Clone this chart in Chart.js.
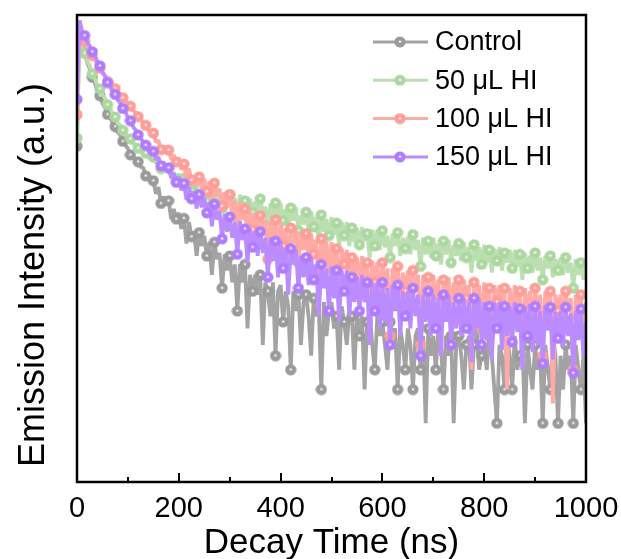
<!DOCTYPE html>
<html>
<head>
<meta charset="utf-8">
<script src="https://cdn.jsdelivr.net/npm/chart.js@4.4.1/dist/chart.umd.min.js"></script>
<style>
  html, body { margin: 0; padding: 0; background: #fff; }
  #trpl { display: block; }
</style>
</head>
<body>
<canvas id="trpl" width="621" height="559"></canvas>
<script>
// decay time axis (ns), one sample every 5 ns
const timeNs = [
  0, 5, 10, 15, 20, 25, 30, 35, 40, 45, 50, 55, 60, 65, 70, 75, 80, 85, 90, 95,
  100, 105, 110, 115, 120, 125, 130, 135, 140, 145, 150, 155, 160, 165, 170, 175, 180, 185, 190, 195,
  200, 205, 210, 215, 220, 225, 230, 235, 240, 245, 250, 255, 260, 265, 270, 275, 280, 285, 290, 295,
  300, 305, 310, 315, 320, 325, 330, 335, 340, 345, 350, 355, 360, 365, 370, 375, 380, 385, 390, 395,
  400, 405, 410, 415, 420, 425, 430, 435, 440, 445, 450, 455, 460, 465, 470, 475, 480, 485, 490, 495,
  500, 505, 510, 515, 520, 525, 530, 535, 540, 545, 550, 555, 560, 565, 570, 575, 580, 585, 590, 595,
  600, 605, 610, 615, 620, 625, 630, 635, 640, 645, 650, 655, 660, 665, 670, 675, 680, 685, 690, 695,
  700, 705, 710, 715, 720, 725, 730, 735, 740, 745, 750, 755, 760, 765, 770, 775, 780, 785, 790, 795,
  800, 805, 810, 815, 820, 825, 830, 835, 840, 845, 850, 855, 860, 865, 870, 875, 880, 885, 890, 895,
  900, 905, 910, 915, 920, 925, 930, 935, 940, 945, 950, 955, 960, 965, 970, 975, 980, 985, 990, 995,
  1000
];

const control = [
  294, 3700, 2380, 1990, 1640, 1450, 1210, 1080, 920, 830,
  710, 650, 565, 535, 470, 440, 392, 370, 325, 300,
  281, 246, 243, 214, 214, 192, 190, 160, 162, 140,
  145, 111, 127, 91, 105, 88, 96, 66, 81, 66,
  75, 54, 67, 40, 62, 46, 51, 31, 50, 38,
  47, 31, 41, 21, 41, 29, 33, 16, 32, 23,
  31, 18, 26, 10, 26, 18, 26, 7, 21, 15,
  21, 14, 21, 5, 18, 15, 9, 18, 4, 15,
  17, 8, 15, 11, 3, 15, 10, 14, 5, 12,
  14, 9, 4, 13, 9, 11, 2, 12, 6, 10,
  12, 7, 9, 3, 11, 8, 5, 10, 9, 3,
  10, 6, 9, 2, 8, 10, 5, 3, 9, 6,
  8, 5, 3, 8, 6, 7, 2, 7, 5, 3,
  7, 5, 2, 6, 7, 3, 6, 1, 7, 4,
  6, 3, 7, 5, 2, 6, 4, 6, 1, 5,
  6, 4, 2, 5, 6, 2, 5, 7, 3, 4,
  5, 3, 6, 4, 2, 1, 5, 4, 2, 6,
  4, 2, 6, 3, 4, 5, 1, 5, 3, 2,
  5, 3, 4, 1, 5, 3, 2, 6, 4, 1,
  4, 2, 5, 3, 4, 1, 5, 3, 2, 4,
  1
];

const hi50 = [
  347, 2880, 2210, 1980, 1680, 1540, 1300, 1170, 1025, 955,
  840, 790, 690, 645, 570, 535, 472, 452, 408, 392,
  352, 342, 309, 306, 282, 280, 258, 256, 233, 232,
  235, 207, 220, 186, 203, 179, 187, 160, 172, 150,
  167, 138, 152, 116, 144, 119, 129, 105, 125, 105,
  123, 96, 112, 82, 115, 91, 108, 82, 108, 84,
  109, 80, 102, 69, 109, 81, 96, 62, 100, 76,
  94, 67, 100, 74, 85, 56, 91, 66, 92, 60,
  91, 64, 81, 51, 83, 64, 84, 52, 71, 59,
  76, 52, 77, 56, 69, 40, 72, 51, 66, 47,
  69, 48, 61, 38, 62, 47, 62, 38, 55, 41,
  55, 39, 56, 42, 49, 30, 53, 38, 53, 35,
  52, 37, 47, 30, 49, 38, 50, 31, 45, 36,
  46, 32, 48, 35, 43, 25, 45, 32, 42, 30,
  45, 31, 40, 26, 42, 32, 43, 27, 39, 31,
  40, 28, 41, 30, 37, 22, 39, 28, 37, 26,
  39, 27, 35, 22, 36, 28, 37, 23, 33, 27,
  35, 24, 35, 25, 32, 19, 33, 24, 31, 22,
  33, 23, 30, 19, 31, 24, 31, 20, 29, 23,
  30, 21, 30, 22, 27, 16, 29, 21, 27, 19,
  25
];

const hi100 = [
  562, 3800, 2800, 2530, 2270, 2110, 1890, 1760, 1570, 1460,
  1320, 1245, 1110, 1075, 990, 960, 885, 860, 795, 768,
  700, 668, 612, 590, 540, 517, 472, 452, 410, 394,
  385, 319, 332, 274, 296, 256, 272, 225, 246, 213,
  231, 182, 204, 153, 187, 147, 160, 130, 157, 124,
  151, 116, 142, 95, 138, 106, 123, 86, 114, 84,
  109, 73, 97, 50, 94, 65, 81, 46, 78, 53,
  71, 43, 71, 51, 65, 29, 64, 44, 65, 32,
  62, 38, 55, 25, 55, 40, 55, 27, 49, 35,
  49, 29, 49, 32, 43, 17, 44, 28, 42, 21,
  41, 23, 36, 13, 36, 26, 35, 16, 30, 20,
  30, 17, 31, 20, 27, 9, 28, 18, 27, 11,
  27, 15, 24, 6, 24, 18, 25, 11, 22, 15,
  23, 13, 23, 15, 21, 5, 21, 13, 20, 9,
  21, 12, 19, 5, 19, 14, 20, 9, 18, 12,
  19, 10, 19, 13, 17, 3, 18, 11, 17, 7,
  18, 10, 16, 4, 17, 12, 17, 8, 16, 2,
  16, 9, 17, 11, 15, 3, 16, 10, 15, 7,
  16, 9, 14, 4, 15, 11, 15, 1.5, 14, 10,
  14, 8, 15, 10, 13, 3, 14, 9, 14, 6,
  12
];

const hi150 = [
  767, 3890, 3120, 2850, 2480, 2300, 2040, 1880, 1680, 1530,
  1350, 1245, 1085, 1015, 905, 850, 762, 712, 638, 596,
  530, 496, 441, 412, 371, 352, 317, 301, 270, 265,
  264, 223, 236, 197, 214, 180, 189, 153, 170, 140,
  157, 119, 137, 98, 128, 100, 116, 82, 109, 84,
  102, 75, 92, 57, 90, 65, 78, 44, 73, 51,
  69, 45, 62, 32, 63, 43, 54, 27, 54, 37,
  51, 31, 51, 33, 45, 20, 45, 28, 42, 20,
  42, 24, 36, 14, 36, 26, 35, 16, 31, 20,
  30, 17, 30, 19, 26, 9, 26, 16, 24, 10,
  25, 13, 23, 8, 23, 15, 23, 9, 20, 12,
  20, 10, 21, 12, 18, 5, 18, 10, 18, 7,
  18, 8, 16, 5, 17, 10, 17, 6, 15, 9,
  15, 7, 16, 9, 14, 4, 14, 8, 15, 6,
  14, 7, 13, 4, 14, 8, 14, 5, 12, 7,
  13, 6, 13, 7, 12, 3.5, 13, 7, 13, 5,
  12, 5.5, 11, 3.7, 12, 7, 12, 4.5, 11, 6,
  11, 5.3, 12, 6.5, 10.5, 3, 11, 6, 11.5, 4.3,
  11, 5, 10, 3.4, 11.3, 6.7, 10.8, 3.7, 9.8, 5.7,
  10, 4.8, 10.8, 6, 9.5, 2.8, 10, 5.5, 10.4, 3.9,
  8
];

const seriesNames = ['Control', '50 \u03bcL HI', '100 \u03bcL HI', '150 \u03bcL HI'];
const seriesValues = [control, hi50, hi100, hi150];
const lineColors = ['#a3a3a3', '#bcdfb1', '#ffaaa5', '#bb8cff'];
const ballColors = ['#9a9a9a', '#acd7a0', '#ff9d97', '#b07cff'];
const drawOrder = [4, 3, 2, 1]; // 150 uL on top
const xTicks = [0, 200, 400, 600, 800, 1000];
const xMinorTicks = [100, 300, 500, 700, 900];

const FONT = '"Liberation Sans", Arial, sans-serif';

// shaded ball like the Origin markers
function makeBall(color) {
  const c = document.createElement('canvas');
  c.width = 12;
  c.height = 12;
  const g = c.getContext('2d');
  const grad = g.createRadialGradient(6, 5.6, 0.3, 6, 6, 6);
  grad.addColorStop(0, 'rgba(255,255,255,0.95)');
  grad.addColorStop(0.28, color);
  grad.addColorStop(1, color);
  g.fillStyle = grad;
  g.beginPath();
  g.arc(6, 6, 5.6, 0, Math.PI * 2);
  g.fill();
  return c;
}
const balls = ballColors.map(makeBall);

const datasets = seriesValues.map((vals, i) => ({
  label: seriesNames[i],
  data: vals.map((v, k) => ({ x: timeNs[k], y: v })),
  borderColor: lineColors[i],
  borderWidth: 3.8,
  borderJoinStyle: 'bevel',
  pointStyle: balls[i],
  pointRadius: (ctx) => (ctx.dataIndex % 3 === 0 ? 5 : 0),
  pointHoverRadius: 0,
  order: drawOrder[i],
  tension: 0
}));

const framePlugin = {
  id: 'frame',
  afterDraw(chart) {
    const ctx = chart.ctx;
    const a = chart.chartArea;
    const xs = chart.scales.x;
    ctx.save();
    // plot box
    ctx.strokeStyle = '#000';
    ctx.lineWidth = 2.5;
    ctx.strokeRect(a.left, a.top, a.right - a.left, a.bottom - a.top);
    // inward ticks on bottom axis
    ctx.lineWidth = 2;
    xTicks.forEach(t => {
      const px = Math.round(xs.getPixelForValue(t));
      ctx.beginPath();
      ctx.moveTo(px, a.bottom);
      ctx.lineTo(px, a.bottom - 9);
      ctx.stroke();
    });
    xMinorTicks.forEach(t => {
      const px = Math.round(xs.getPixelForValue(t));
      ctx.beginPath();
      ctx.moveTo(px, a.bottom);
      ctx.lineTo(px, a.bottom - 5);
      ctx.stroke();
    });
    // tick labels
    ctx.fillStyle = '#000';
    ctx.font = '29px ' + FONT;
    ctx.textAlign = 'center';
    ctx.textBaseline = 'alphabetic';
    xTicks.forEach(t => {
      ctx.fillText(String(t), xs.getPixelForValue(t), 517);
    });
    // axis titles
    ctx.font = '35px ' + FONT;
    ctx.fillText('Decay Time (ns)', (a.left + a.right) / 2, 553);
    ctx.save();
    ctx.translate(44, 275);
    ctx.rotate(-Math.PI / 2);
    ctx.font = '36px ' + FONT;
    ctx.fillText('Emission Intensity (a.u.)', 0, 0);
    ctx.restore();
    // legend
    ctx.font = '27px ' + FONT;
    ctx.textAlign = 'left';
    ctx.textBaseline = 'middle';
    seriesNames.forEach((name, i) => {
      const ly = 42 + i * 38.3;
      ctx.strokeStyle = lineColors[i];
      ctx.lineWidth = 3;
      ctx.beginPath();
      ctx.moveTo(373, ly);
      ctx.lineTo(428, ly);
      ctx.stroke();
      ctx.drawImage(balls[i], 400 - 6, ly - 6);
      ctx.fillStyle = '#000';
      ctx.fillText(name, 435, ly + 1);
    });
    ctx.restore();
  }
};

new Chart(document.getElementById('trpl'), {
  type: 'line',
  data: { datasets: datasets },
  options: {
    responsive: false,
    devicePixelRatio: 1,
    animation: false,
    layout: { padding: { left: 77, top: 15, right: 35, bottom: 77 } },
    plugins: { legend: { display: false }, tooltip: { enabled: false } },
    scales: {
      x: { type: 'linear', min: 0, max: 1000, display: false },
      y: { type: 'logarithmic', min: 0.32, max: 4340, display: false }
    }
  },
  plugins: [framePlugin]
});
</script>
</body>
</html>
